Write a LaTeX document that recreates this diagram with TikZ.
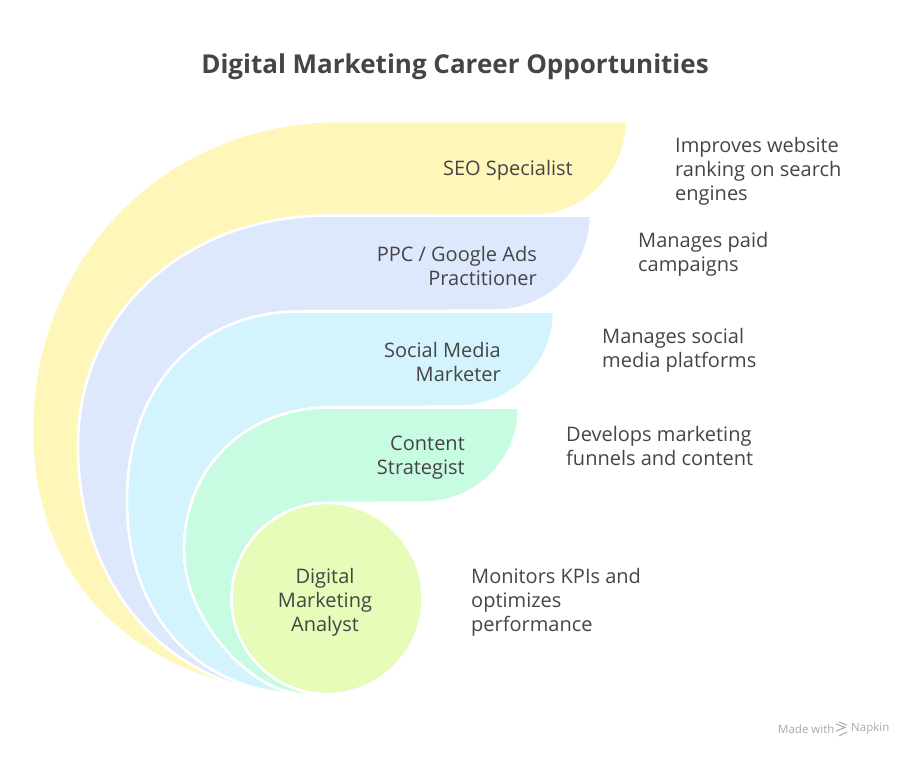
\documentclass[tikz,border=0pt]{standalone}
\usepackage{fontspec}
\setmainfont{Open Sans}
\definecolor{seocol}{HTML}{FEF7B9}
\definecolor{ppccol}{HTML}{DDE8FD}
\definecolor{smmcol}{HTML}{D3F3FD}
\definecolor{cscol}{HTML}{C8FCE2}
\definecolor{dmacol}{HTML}{E6FCB8}
\definecolor{textcol}{HTML}{454545}
\definecolor{footcol}{HTML}{A8A8A8}

\begin{document}
\begin{tikzpicture}
  [x=1pt,y=-1pt,
   band/.style={draw=white,line width=2.5pt,line join=round},
   role/.style={inner sep=0pt,text=textcol,font=\fontsize{20}{24}\selectfont,align=right,anchor=east},
   info/.style={inner sep=0pt,text=textcol,font=\fontsize{20}{24}\selectfont,align=left,anchor=west},
   foot/.style={anchor=west,inner sep=0pt,font=\fontsize{11.5}{13}\selectfont,text=footcol}]
  \useasboundingbox (0,0) rectangle (911,756);
  \coordinate (seo-T) at (340,121);   \coordinate (seo-C1) at (162,121);
  \coordinate (seo-C2) at (32,259);   \coordinate (seo-L) at (32,430);
  \coordinate (seo-C3) at (32,600);   \coordinate (seo-C4) at (155,680);
  \coordinate (seo-P) at (280,694);   \coordinate (seo-R) at (627,121);
  \coordinate (ppc-T) at (330,215.5); \coordinate (ppc-C1) at (180,215.5);
  \coordinate (ppc-C2) at (78,318);   \coordinate (ppc-L) at (78,445);
  \coordinate (ppc-C3) at (78,590);   \coordinate (ppc-C4) at (170,685);
  \coordinate (ppc-P) at (285,694);   \coordinate (ppc-R) at (591,215.5);
  \coordinate (smm-T) at (300,311.5); \coordinate (smm-C1) at (196,311.5);
  \coordinate (smm-C2) at (127,388);  \coordinate (smm-L) at (127,500);
  \coordinate (smm-C3) at (127,610);  \coordinate (smm-C4) at (190,685);
  \coordinate (smm-P) at (290,694);   \coordinate (smm-R) at (554,311.5);
  \coordinate (cs-T) at (330,407.5);  \coordinate (cs-C1) at (245,407.5);
  \coordinate (cs-C2) at (184,468);   \coordinate (cs-L) at (184,550);
  \coordinate (cs-C3) at (184,620);   \coordinate (cs-C4) at (250,690);
  \coordinate (cs-P) at (300,694);    \coordinate (cs-R) at (519,407.5);
  \coordinate (dma-N) at (327,503);
  \foreach \n/\m/\c in {seo/ppc/seocol,ppc/smm/ppccol,smm/cs/smmcol}
    \path[band,fill=\c] (\n-P) .. controls (\n-C4) and (\n-C3) .. (\n-L)
      .. controls (\n-C2) and (\n-C1) .. (\n-T) -- (\n-R)
      arc[start angle=0,end angle=90,x radius=95,y radius=95] -- (\m-T)
      .. controls (\m-C1) and (\m-C2) .. (\m-L)
      .. controls (\m-C3) and (\m-C4) .. (\m-P) -- cycle;
  \path[band,fill=cscol] (cs-P) .. controls (cs-C4) and (cs-C3) .. (cs-L)
      .. controls (cs-C2) and (cs-C1) .. (cs-T) -- (cs-R)
      arc[start angle=0,end angle=90,x radius=95,y radius=95] -- (dma-N)
      arc[start angle=270,end angle=90,radius=95.5] -- cycle;
  \node[band,fill=dmacol,circle,minimum size=191pt,inner sep=0pt] (dma) at (327,598.5) {};

  \node[font=\bfseries\fontsize{26}{30}\selectfont,text=textcol] (title) at (455,67) {Digital Marketing Career Opportunities};
  \node[role] (seo) at (573,170) {SEO Specialist};
  \node[role] (ppc) at (537,266) {PPC / Google Ads\\Practitioner};
  \node[role] (smm) at (501,362) {Social Media\\Marketer};
  \node[role] (cs) at (465,458) {Content\\Strategist};
  \node[inner sep=0pt,text=textcol,font=\fontsize{20}{24}\selectfont,align=center] (dma-text) at (325,602) {Digital\\Marketing\\Analyst};
  \node[info] (seo-info) at (675,171) {Improves website\\ranking on search\\engines};
  \node[info] (ppc-info) at (638,254) {Manages paid\\campaigns};
  \node[info] (smm-info) at (602,350) {Manages social\\media platforms};
  \node[info] (cs-info) at (566,446) {Develops marketing\\funnels and content};
  \node[info] (dma-info) at (471,602) {Monitors KPIs and\\optimizes\\performance};

  \node[foot] (made) at (778,729) {Made with};
  \node[foot] (napkin) at (851,729) {Napkin};
  \draw[footcol,line width=1pt] (836,724) -- (845,727.5) -- (836,731)
    (839,722) -- (847,725) (839,736) -- (847,732);
\end{tikzpicture}
\end{document}
